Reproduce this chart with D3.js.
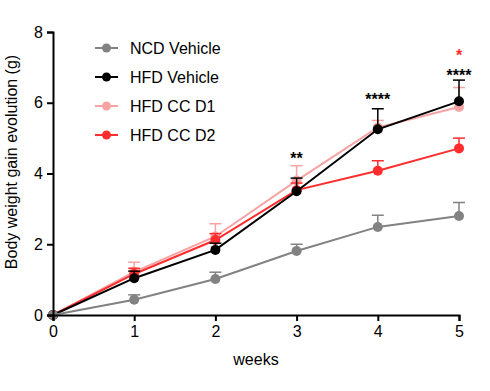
<!DOCTYPE html>
<html>
<head>
<meta charset="utf-8">
<script src="https://cdn.jsdelivr.net/npm/d3@7"></script>
<style>
  body { margin: 0; background: #fff; }
  text { font-family: "Liberation Sans", Arial, sans-serif; }
</style>
</head>
<body>
<script>
// weeks on the x axis
var weeks = [0, 1, 2, 3, 4, 5];

// group means and upper SEM bars (g)
var ncdMean = [0, 0.43, 1.02, 1.81, 2.49, 2.80];
var ncdSem  = [0, 0.14, 0.19, 0.19, 0.33, 0.38];
var hfdMean = [0, 1.04, 1.84, 3.50, 5.25, 6.04];
var hfdSem  = [0, 0.20, 0.19, 0.37, 0.58, 0.60];
var d1Mean  = [0, 1.22, 2.22, 3.80, 5.30, 5.88];
var d1Sem   = [0, 0.27, 0.36, 0.42, 0.20, 0.55];
var d2Mean  = [0, 1.16, 2.12, 3.53, 4.08, 4.71];
var d2Sem   = [0, 0.16, 0.18, 0.20, 0.28, 0.29];

var groupNames  = ["NCD Vehicle", "HFD Vehicle", "HFD CC D1", "HFD CC D2"];
var groupColors = ["#828282", "#000000", "#f7a3a3", "#ff2d2d"];

// significance marks
var starLabels = ["**", "****", "****", "*"];
var starWeeks  = [3, 4, 5, 5];
var starValues = [4.27, 5.94, 6.61, 7.17];
var starColors = ["#000", "#000", "#000", "#ff2d2d"];

var yTicks = [0, 2, 4, 6, 8];

var width = 490, height = 391;
var margin = {left: 53, right: 31, top: 32, bottom: 76};

var svg = d3.select("body").append("svg")
    .attr("width", width)
    .attr("height", height);

var x = d3.scaleLinear().domain([0, 5]).range([margin.left, width - margin.right]);
var y = d3.scaleLinear().domain([0, 8]).range([height - margin.bottom, margin.top]);

var groups = [
    {name: groupNames[0], color: groupColors[0], mean: ncdMean, sem: ncdSem},
    {name: groupNames[1], color: groupColors[1], mean: hfdMean, sem: hfdSem},
    {name: groupNames[2], color: groupColors[2], mean: d1Mean, sem: d1Sem},
    {name: groupNames[3], color: groupColors[3], mean: d2Mean, sem: d2Sem}
];

// draw order: pink first, then red, black, gray on top at origin
var drawOrder = [2, 3, 1, 0];

var line = d3.line()
    .x(function(d, i){ return x(weeks[i]); })
    .y(function(d){ return y(d); });

drawOrder.forEach(function(k){
    var g = groups[k];
    var layer = svg.append("g");

    // error bars (upper only)
    g.mean.forEach(function(m, i){
        if (g.sem[i] <= 0) return;
        var cx = x(weeks[i]);
        layer.append("line")
            .attr("x1", cx).attr("x2", cx)
            .attr("y1", y(m)).attr("y2", y(m + g.sem[i]))
            .attr("stroke", g.color).attr("stroke-width", 1.5);
        layer.append("line")
            .attr("x1", cx - 6).attr("x2", cx + 6)
            .attr("y1", y(m + g.sem[i])).attr("y2", y(m + g.sem[i]))
            .attr("stroke", g.color).attr("stroke-width", 1.5);
    });

    layer.append("path")
        .datum(g.mean)
        .attr("d", line)
        .attr("fill", "none")
        .attr("stroke", g.color)
        .attr("stroke-width", 2);

    layer.selectAll("circle")
        .data(g.mean)
        .enter()
        .append("circle")
        .attr("cx", function(d, i){ return x(weeks[i]); })
        .attr("cy", function(d){ return y(d); })
        .attr("r", 5)
        .attr("fill", g.color);
});

// axes
var xAxis = svg.append("g")
    .attr("transform", "translate(0," + y(0) + ")")
    .call(d3.axisBottom(x).tickValues(weeks).tickSize(6).tickPadding(5).tickFormat(d3.format("d")));

var yAxis = svg.append("g")
    .attr("transform", "translate(" + x(0) + ",0)")
    .call(d3.axisLeft(y).tickValues(yTicks).tickSize(6).tickPadding(4));

[xAxis, yAxis].forEach(function(a){
    a.select(".domain").attr("stroke", "#000").attr("stroke-width", 2);
    a.selectAll(".tick line").attr("stroke", "#000").attr("stroke-width", 2);
    a.selectAll(".tick text").attr("font-size", 16).attr("fill", "#000")
        .style("font-family", "'Liberation Sans', Arial, sans-serif");
});

// axis titles
svg.append("text")
    .attr("x", x(2.5))
    .attr("y", 365)
    .attr("text-anchor", "middle")
    .attr("font-size", 16)
    .text("weeks");

svg.append("text")
    .attr("transform", "translate(17,162) rotate(-90)")
    .attr("text-anchor", "middle")
    .attr("font-size", 16)
    .text("Body weight gain evolution (g)");

// significance stars
starLabels.forEach(function(s, i){
    svg.append("text")
        .attr("x", x(starWeeks[i]))
        .attr("y", y(starValues[i]))
        .attr("text-anchor", "middle")
        .attr("font-size", 16)
        .attr("font-weight", "bold")
        .attr("fill", starColors[i])
        .text(s);
});

// legend
var legend = svg.append("g").attr("transform", "translate(95,48)");
groups.forEach(function(g, i){
    var row = legend.append("g").attr("transform", "translate(0," + (i * 29) + ")");
    row.append("line")
        .attr("x1", 0).attr("x2", 23)
        .attr("stroke", g.color).attr("stroke-width", 2);
    row.append("circle")
        .attr("cx", 11.5).attr("r", 4.5).attr("fill", g.color);
    row.append("text")
        .attr("x", 35).attr("dy", "0.35em")
        .attr("font-size", 16)
        .text(g.name);
});
</script>
</body>
</html>
